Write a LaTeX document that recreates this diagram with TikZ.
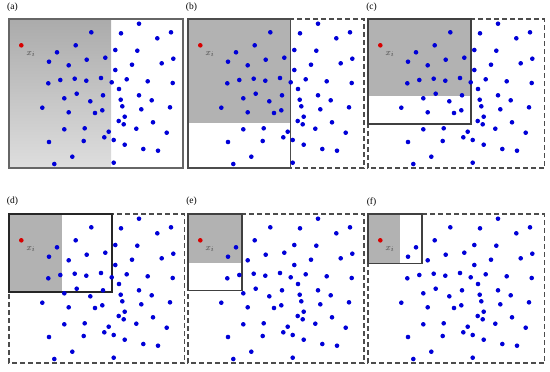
\documentclass[tikz,border=0pt]{standalone}
\usepackage{fontspec}
\setmainfont{Liberation Serif}
\definecolor{dotblue}{RGB}{0,0,215}
\definecolor{dotred}{RGB}{215,0,0}
\def\ptlist{139.0/23.7, 91.3/32.3, 121.0/33.3, 171.0/32.3, 157.3/38.3, 75.7/45.3, 115.3/50.0, 137.3/50.7, 57.0/52.3, 49.0/61.7, 86.7/59.7, 105.3/57.7, 173.3/58.7, 161.7/63.3, 68.7/65.3, 132.0/64.7, 115.3/70.0, 48.3/83.3, 60.3/80.0, 74.7/78.7, 86.3/80.7, 101.0/78.0, 111.7/82.3, 126.7/79.3, 147.7/81.3, 172.7/83.0, 119.0/89.0, 64.3/98.3, 76.7/93.7, 103.0/95.3, 90.3/101.3, 120.7/99.7, 139.0/95.3, 151.7/100.3, 42.3/107.7, 68.7/112.3, 95.0/113.0, 102.3/110.3, 122.3/106.3, 141.3/109.3, 170.0/107.3, 124.7/116.7, 118.7/121.0, 123.7/124.3, 153.0/122.3, 64.3/129.3, 84.7/128.3, 108.7/131.7, 136.3/128.7, 104.3/137.3, 166.7/132.7, 49.0/142.0, 83.7/141.0, 113.7/140.0, 124.7/144.7, 143.3/149.0, 158.0/150.7, 72.3/156.7, 54.3/164.0, 113.7/162.7}
\begin{document}
\begin{tikzpicture}[x=1bp,y=-1bp,
  solidbox/.style={draw=black!85,line width=1.6bp},
  dashbox/.style={draw=black!70,line width=1.2bp,dash pattern=on 5bp off 3bp},
  grayfill/.style={fill=black!30},
  bluedot/.style={fill=dotblue},
  reddot/.style={fill=dotred},
  lab/.style={font=\fontsize{9.5}{10}\selectfont, inner sep=0pt},
  xlab/.style={font=\fontsize{9.5}{10}\selectfont, inner sep=0pt, text=black!75}]
\useasboundingbox (0,0) rectangle (550,371);

% (a)
\begin{scope}[shift={(0,0)}]
  \shade[top color=black!33,bottom color=black!13] (9,19) rectangle (111,168);
  \draw[draw=black!60,line width=1.6bp] (9,19) rectangle (183,168);
  \node[lab] (la) at (12.5,7.5) {(a)};
\end{scope}
% (b)
\begin{scope}[shift={(179,0)}]
  \fill[grayfill] (9,19) rectangle (111.3,123.3);
  \draw[dashbox] (9,19) rectangle (185,168);
  \draw[solidbox,draw=black!70] (9,19) rectangle (111.3,168);
  \node[lab] (lb) at (12.5,7.5) {(b)};
\end{scope}
% (c)
\begin{scope}[shift={(359,0)}]
  \fill[grayfill] (9,19) rectangle (111.7,96.3);
  \draw[dashbox] (9,19) rectangle (185.5,168);
  \draw[solidbox,draw=black!75] (9,19) rectangle (111.7,123.7);
  \node[lab] (lc) at (12.5,7.5) {(c)};
\end{scope}
% (d)
\begin{scope}[shift={(0,195)}]
  \fill[grayfill] (9,19) rectangle (62,97);
  \draw[dashbox] (9,19) rectangle (184.5,168);
  \draw[solidbox] (9,19) rectangle (112,97);
  \node[lab] (ld) at (12.5,6.7) {(d)};
\end{scope}
% (e)
\begin{scope}[shift={(179,195)}]
  \fill[grayfill] (9,19) rectangle (62.7,68.3);
  \draw[dashbox] (9,19) rectangle (185,168);
  \draw[solidbox,draw=black!75] (9,19) rectangle (62.7,95.3);
  \node[lab] (le) at (12.5,6.7) {(e)};
\end{scope}
% (f)
\begin{scope}[shift={(359,195)}]
  \fill[grayfill] (9,19) rectangle (40.7,68.3);
  \draw[dashbox] (9,19) rectangle (185.5,168);
  \draw[solidbox,draw=black!75] (9,19) rectangle (62.7,68.3);
  \node[lab] (lf) at (12.5,6.7) {(f)};
\end{scope}

% points in every panel
\foreach \dx/\dy in {0/0, 179/0, 359/0, 0/195, 179/195, 359/195}{
  \begin{scope}[shift={(\dx,\dy)}]
    \foreach \px/\py in \ptlist {\fill[bluedot] (\px,\py) circle (2.3bp);}
    \fill[reddot] (21.3,45.3) circle (2.3bp);
    \node[xlab] at (31,54) {$x_i$};
  \end{scope}
}
\end{tikzpicture}
\end{document}
